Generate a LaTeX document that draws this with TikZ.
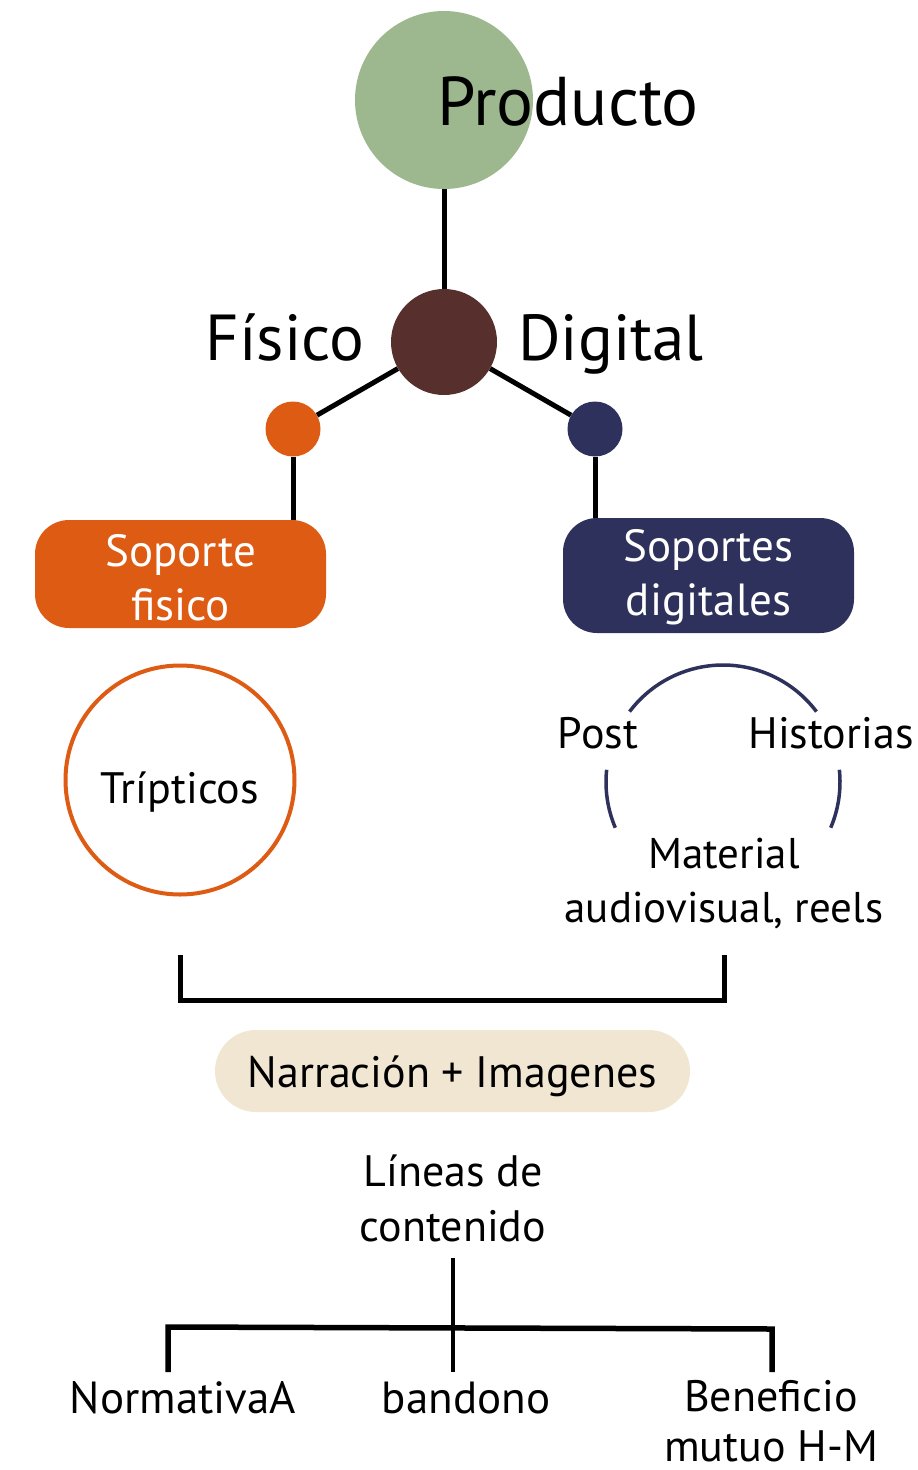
\documentclass[tikz,border=0pt]{standalone}
\usepackage{fontspec}
\setmainfont{PT Sans}
\definecolor{cgreen}{HTML}{9DB88F}
\definecolor{cbrown}{HTML}{572F2D}
\definecolor{corange}{HTML}{DE5B14}
\definecolor{cnavy}{HTML}{2E315C}
\definecolor{cbeige}{HTML}{F0E6D1}
\tikzset{
  fs/.style={font=\fontsize{#1}{54}\selectfont},
  lbl/.style={inner sep=0pt, align=center},
  conn/.style={draw=black, line width=5pt},
  dot/.style={circle, inner sep=0pt, minimum size=#1},
  box/.style={rounded corners=34pt, minimum width=291pt, inner sep=0pt},
}
\begin{document}
\begin{tikzpicture}[x=1pt,y=-1pt]
\useasboundingbox (0,0) rectangle (918,1470);
% top
\node[dot=178pt, fill=cgreen] (prod) at (444,100) {};
\node[lbl, fs=69, anchor=base] (prodt) at (568,125) {Producto};
\node[dot=106pt, fill=cbrown] (hub) at (444,342) {};
\node[lbl, fs=65, anchor=base] (fis) at (285,360) {Físico};
\node[lbl, fs=65, anchor=base] (dig) at (611,360) {Digital};
\node[dot=55pt, fill=corange] (od) at (293,429) {};
\node[dot=55pt, fill=cnavy] (nd) at (595,429) {};
\draw[conn] (prod) -- (hub);
\draw[conn] (hub) -- (od);
\draw[conn] (hub) -- (nd);
% boxes
\node[box, fill=corange, minimum height=108pt] (sf) at (180.5,574) {};
\node[lbl, fs=45, text=white] (sft) at (180.5,578) {Soporte\\fisico};
\node[box, fill=cnavy, minimum height=115pt] (sd) at (708.5,575.5) {};
\node[lbl, fs=45, text=white] (sdt) at (708.5,577) {Soportes\\digitales};
\draw[conn] (od) -- (od |- sf.north);
\draw[conn] (nd) -- (nd |- sd.north);
% triptico
\node[circle, draw=corange, line width=4pt, minimum size=229pt, inner sep=0pt] (trip) at (180,780) {};
\node[lbl, fs=44, anchor=base] (tript) at (180,803) {Trípticos};
% digital circle
\coordinate (dc) at (723,782);
\draw[cnavy, line width=3.5pt] (dc) ++(37:117pt) arc[start angle=37, end angle=143, radius=117pt];
\draw[cnavy, line width=3.5pt] (dc) ++(174:117pt) arc[start angle=174, end angle=203, radius=117pt];
\draw[cnavy, line width=3.5pt] (dc) ++(-23:117pt) arc[start angle=-23, end angle=6, radius=117pt];
\node[lbl, fs=44, anchor=base] (post) at (598,748) {Post};
\node[lbl, fs=44, anchor=base] (hist) at (831,748) {Historias};
\node[lbl, fs=43] (mat) at (724,883) {Material\\audiovisual, reels};
% bracket
\coordinate (bl) at (180,955);
\coordinate (br) at (724,955);
\draw[conn, line cap=butt] (bl) -- ++(0,45) -| (br);
% narracion
\node[lbl, fill=cbeige, rounded corners=41pt, minimum width=475pt, minimum height=82pt] (narr) at (452.5,1071) {};
\node[lbl, fs=44, anchor=base] (narrt) at (452.5,1087) {Narración + Imagenes};
\node[lbl, font=\fontsize{44}{55}\selectfont] (lin) at (453,1198) {Líneas de\\contenido};
% tree
\coordinate (t0) at (453,1258);
\coordinate (tb) at (453,1372);
\coordinate (l0) at (168,1372);
\coordinate (r0) at (772,1372);
\draw[conn, line width=4pt] (t0) -- (tb);
\draw[conn, line width=5.5pt] (l0) -- (168,1327) -- (772,1329) -- (r0);
\node[lbl, fs=45, anchor=base] (norm) at (183,1413) {NormativaA};
\node[lbl, fs=45, anchor=base] (band) at (466,1413) {bandono};
\node[lbl, font=\fontsize{44}{50}\selectfont] (ben) at (771,1421) {Beneficio\\mutuo H-M};
\end{tikzpicture}
\end{document}
